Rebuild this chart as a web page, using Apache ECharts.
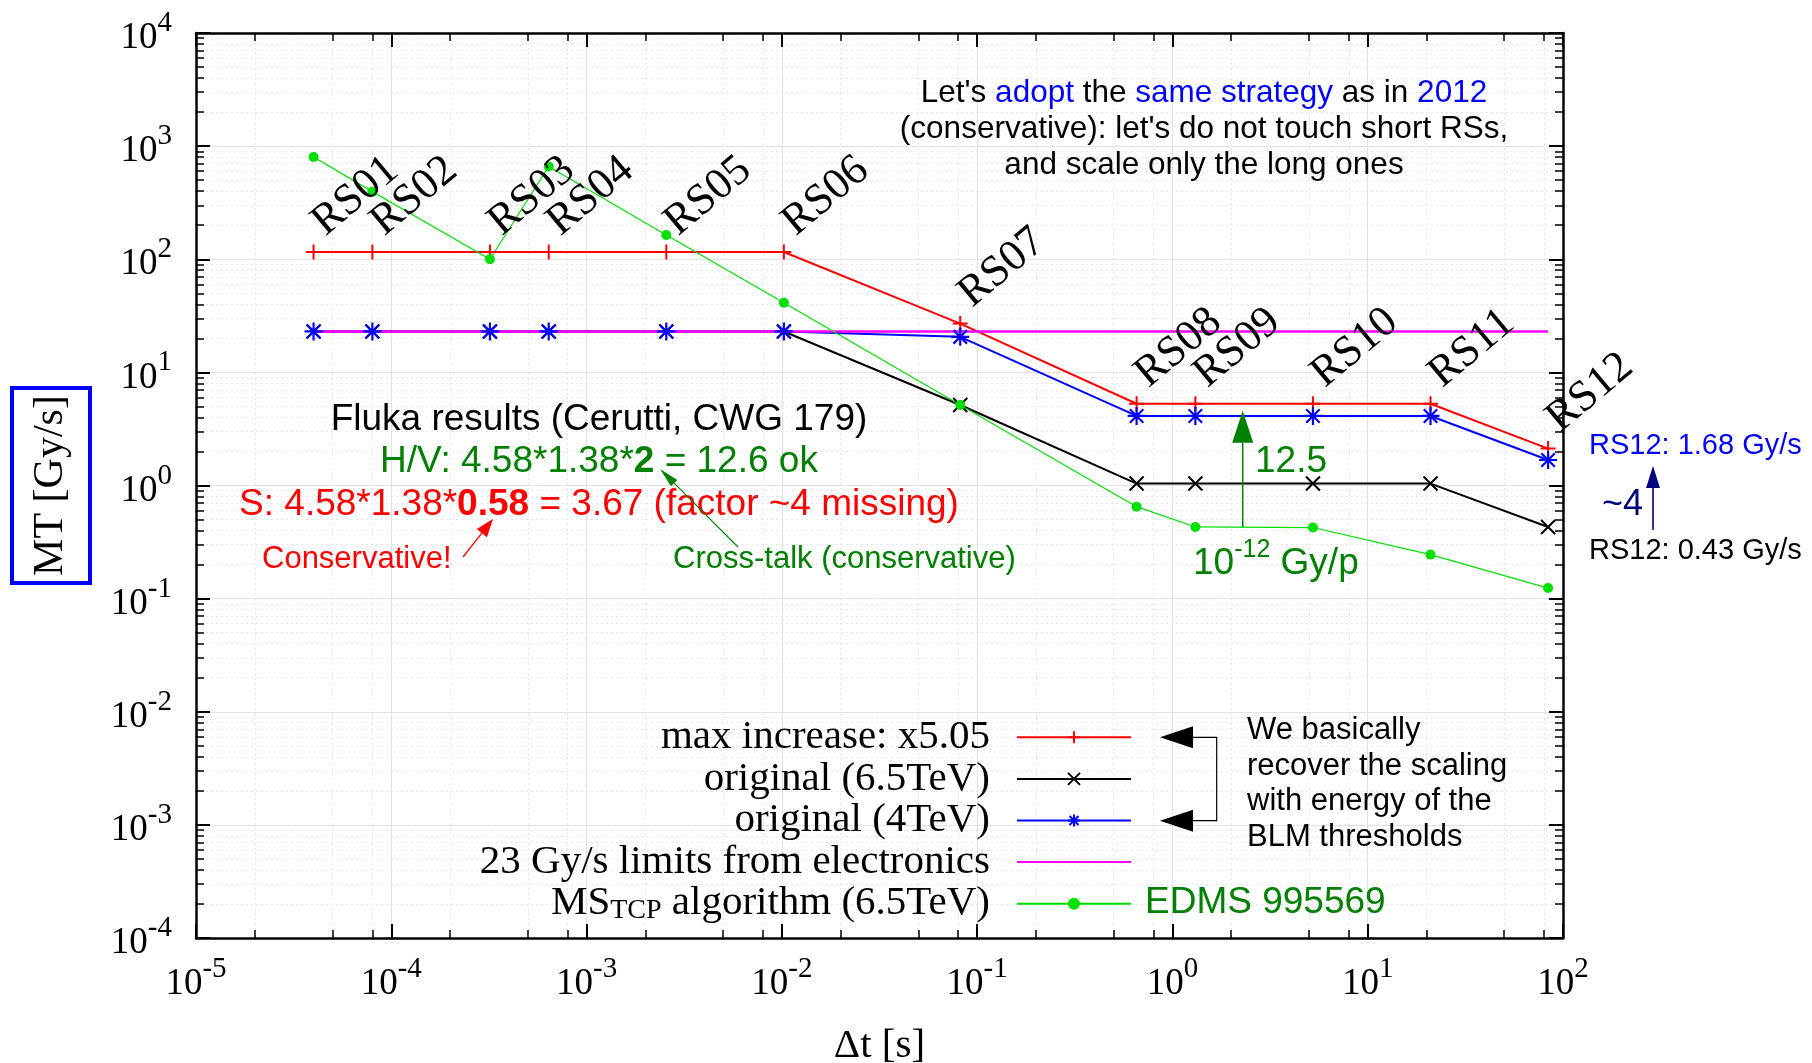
<!DOCTYPE html>
<html><head><meta charset="utf-8">
<script src="https://cdn.jsdelivr.net/npm/echarts@6/dist/echarts.min.js"></script>
<style>html,body{margin:0;padding:0;background:#fff}#c{width:1812px;height:1063px}</style>
</head><body><div id="c"></div>
<script>
// ---- data ----
const rsNames = ['RS01','RS02','RS03','RS04','RS05','RS06','RS07','RS08','RS09','RS10','RS11','RS12'];
const dtSeconds = [4e-5, 8e-5, 3.2e-4, 6.4e-4, 2.56e-3, 1.024e-2, 8.192e-2, 0.65536, 1.31072, 5.24288, 20.97152, 83.88608];
const maxIncrease = [116, 116, 116, 116, 116, 116, 27, 5.28, 5.28, 5.28, 5.28, 2.12];
const original65  = [23, 23, 23, 23, 23, 23, 5.15, 1.04, 1.04, 1.04, 1.04, 0.43];
const original4   = [23, 23, 23, 23, 23, 23, 20.6, 4.12, 4.12, 4.12, 4.12, 1.68];
const limit23     = [23, 23, 23, 23, 23, 23, 23, 23, 23, 23, 23, 23];
const msTcp       = [800, 396, 100, 660, 164, 41.3, 5.15, 0.65, 0.43, 0.425, 0.245, 0.124];
const seriesNames = ['max increase: x5.05', 'original (6.5TeV)', 'original (4TeV)', '23 Gy/s limits from electronics', 'MS_TCP algorithm (6.5TeV)'];
const xRange = [1e-5, 1e2];
const yRange = [1e-4, 1e4];
const xMinorMantissa = [2, 5, 8];
const yMinorMantissa = [2, 3, 4, 5, 6, 7, 8, 9];

// ---- helpers ----
const SERIF = "'Liberation Serif','Times New Roman',serif";
const SANS = "'Liberation Sans',Arial,sans-serif";
function minorTicks(range, mant) {
  const out = [];
  for (let e = Math.round(Math.log10(range[0])); e < Math.round(Math.log10(range[1])); e++) {
    mant.forEach(m => out.push(+(m * Math.pow(10, e)).toPrecision(6)));
  }
  return out;
}
const xMinor = minorTicks(xRange, xMinorMantissa);
const yMinor = minorTicks(yRange, yMinorMantissa);
const pairs = ys => dtSeconds.map((x, i) => [x, ys[i]]);
const expLabel = v => '{b|10}{s|' + Math.round(Math.log10(v)) + '}';

const plusPath = 'path://M0,-1L0,1M-1,0L1,0';
const crossPath = 'path://M-1,-1L1,1M-1,1L1,-1';
const starPath = 'path://M0,-1L0,1M-1,0L1,0M-0.75,-0.75L0.75,0.75M-0.75,0.75L0.75,-0.75';

function baseAxis(extra) {
  return Object.assign({
    type: 'log', logBase: 10, gridIndex: 0,
    axisLine: { show: false, onZero: false },
    axisLabel: { show: false },
    axisTick: { show: false },
    splitLine: { show: false },
    minorTick: { show: false }, minorSplitLine: { show: false },
    silent: true
  }, extra);
}
const axisLineStyle = { show: true, onZero: false, lineStyle: { color: '#000', width: 2.5 } };
const majorTick = { show: true, inside: true, length: 14, lineStyle: { color: '#000', width: 2 } };
const minorTickStyle = (vals) => ({ show: true, inside: true, length: 8, customValues: vals, lineStyle: { color: '#000', width: 1.5 } });
const richTick = {
  b: { fontFamily: SERIF, fontSize: 37, lineHeight: 48, verticalAlign: 'bottom', color: '#000' },
  s: { fontFamily: SERIF, fontSize: 29, lineHeight: 29, verticalAlign: 'top', color: '#000' }
};

// ---- graphic annotations ----
function txt(x, y, text, o) {
  return { type: 'text', x: x, y: y, silent: true, z: 50,
    style: Object.assign({ text: text, align: 'left', verticalAlign: 'middle', textAlign: 'left', textVerticalAlign: 'middle',
      fontFamily: SANS, fontSize: 31, fill: '#000' }, o) };
}
function arrow(x1, y1, x2, y2, color, lw, hl, hw) {
  const dx = x2 - x1, dy = y2 - y1, L = Math.hypot(dx, dy), ux = dx / L, uy = dy / L;
  const bx = x2 - ux * hl, by = y2 - uy * hl, px = -uy * hw / 2, py = ux * hw / 2;
  return [
    { type: 'line', silent: true, z: 50, shape: { x1: x1, y1: y1, x2: bx, y2: by }, style: { stroke: color, lineWidth: lw } },
    { type: 'polygon', silent: true, z: 50, shape: { points: [[x2, y2], [bx + px, by + py], [bx - px, by - py]] }, style: { fill: color } }
  ];
}

const graphics = [
  txt(1204, 129, "{k|Let's }{b|adopt}{k| the }{b|same strategy}{k| as in }{b|2012}\n{k|(conservative): let's do not touch short RSs,}\n{k|and scale only the long ones}", {
    align: 'center', textAlign: 'center',
    rich: { k: { fontFamily: SANS, fontSize: 31.5, lineHeight: 36, fill: '#000' }, b: { fontFamily: SANS, fontSize: 31.5, lineHeight: 36, fill: '#0000ff' } } }),
  txt(599, 462, "{k|Fluka results (Cerutti, CWG 179)}\n{g|H/V: 4.58*1.38*}{gb|2}{g| = 12.6 ok}\n{r|S: 4.58*1.38*}{rb|0.58}{r| = 3.67 (factor ~4 missing)}", {
    align: 'center', textAlign: 'center',
    rich: {
      k: { fontFamily: SANS, fontSize: 37, lineHeight: 42.5, fill: '#000' },
      g: { fontFamily: SANS, fontSize: 37, lineHeight: 42.5, fill: '#008000' },
      gb: { fontFamily: SANS, fontSize: 37, lineHeight: 42.5, fill: '#008000', fontWeight: 'bold' },
      r: { fontFamily: SANS, fontSize: 37, lineHeight: 42.5, fill: '#ff0000' },
      rb: { fontFamily: SANS, fontSize: 37, lineHeight: 42.5, fill: '#ff0000', fontWeight: 'bold' }
    } }),
  txt(262, 559, 'Conservative!', { fill: '#ff0000' }),
  txt(673, 559, 'Cross-talk (conservative)', { fill: '#008000' }),
  txt(1255, 462, '12.5', { fontSize: 37, fill: '#008000' }),
  txt(1193, 560, '{n|10}{s|-12}{n| Gy/p}', { fill: '#008000',
    rich: { n: { fontFamily: SANS, fontSize: 37, lineHeight: 44, verticalAlign: 'bottom', fill: '#008000' }, s: { fontFamily: SANS, fontSize: 25, lineHeight: 25, verticalAlign: 'top', fill: '#008000' } } }),
  txt(1589, 446, 'RS12: 1.68 Gy/s', { fontSize: 29, fill: '#0000ff' }),
  txt(1602, 505, '~4', { fontSize: 36, fill: '#000080' }),
  txt(1589, 551, 'RS12: 0.43 Gy/s', { fontSize: 29, fill: '#000' }),
  txt(1247, 784, 'We basically\nrecover the scaling\nwith energy of the\nBLM thresholds', { fontSize: 31, lineHeight: 35.5 }),
  txt(1145, 903, 'EDMS 995569', { fontSize: 37, fill: '#008000' }),
  { type: 'polyline', silent: true, z: 50, shape: { points: [[1192, 737.3], [1216.7, 737.3], [1216.7, 820.7], [1192, 820.7]] }, style: { stroke: '#000', lineWidth: 1.2, fill: null } },
  { type: 'polygon', silent: true, z: 50, shape: { points: [[1160, 737.3], [1193, 726.3], [1193, 748.3]] }, style: { fill: '#000' } },
  { type: 'polygon', silent: true, z: 50, shape: { points: [[1160, 820.7], [1193, 809.7], [1193, 831.7]] }, style: { fill: '#000' } }
].concat(
  arrow(463, 557, 493, 519, '#ff0000', 1.3, 18, 13),
  arrow(738, 547, 660, 469, '#008000', 1.1, 20, 9),
  arrow(1242.7, 527, 1242.7, 410.7, '#008000', 1.5, 32, 21),
  arrow(1653, 530, 1653, 466, '#000080', 1.6, 22, 14)
);

// ---- chart ----
const chart = echarts.init(document.getElementById('c'), null, { renderer: 'canvas' });
chart.setOption({
  backgroundColor: '#fff',
  animation: false,
  grid: { left: 196, top: 33, width: 1367, height: 905, outerBoundsMode: 'none', containLabel: false },
  xAxis: [
    baseAxis({ min: xRange[0], max: xRange[1], splitNumber: 7, position: 'bottom',
      axisLine: axisLineStyle, axisTick: majorTick,
      axisLabel: { show: true, margin: 17, formatter: expLabel, rich: richTick },
      splitLine: { show: true, lineStyle: { color: '#e2e2e2', width: 1 } },
      name: 'Δt [s]', nameLocation: 'middle', nameGap: 88,
      nameTextStyle: { fontFamily: SERIF, fontSize: 41, color: '#000' } }),
    baseAxis({ min: xRange[0], max: xRange[1], splitNumber: 7, position: 'bottom',
      axisTick: minorTickStyle(xMinor),
      splitLine: { show: true, lineStyle: { color: '#e6e6e6', width: 1, type: [2, 3] } } }),
    baseAxis({ min: xRange[0], max: xRange[1], splitNumber: 7, position: 'top', axisLine: axisLineStyle, axisTick: majorTick }),
    baseAxis({ min: xRange[0], max: xRange[1], splitNumber: 7, position: 'top', axisTick: minorTickStyle(xMinor) })
  ],
  yAxis: [
    baseAxis({ min: yRange[0], max: yRange[1], splitNumber: 8, position: 'left',
      axisLine: axisLineStyle, axisTick: majorTick,
      axisLabel: { show: true, margin: 24, formatter: expLabel, rich: richTick },
      splitLine: { show: true, lineStyle: { color: '#e2e2e2', width: 1 } },
      name: 'MT [Gy/s]', nameLocation: 'middle', nameGap: 106, nameRotate: 90,
      nameTextStyle: { fontFamily: SERIF, fontSize: 42, color: '#000', borderColor: '#0000ff', borderWidth: 4, padding: [18, 7, 18, 7] } }),
    baseAxis({ min: yRange[0], max: yRange[1], splitNumber: 8, position: 'left',
      axisTick: minorTickStyle(yMinor),
      splitLine: { show: true, lineStyle: { color: '#e6e6e6', width: 1, type: [2, 3] } } }),
    baseAxis({ min: yRange[0], max: yRange[1], splitNumber: 8, position: 'right', axisLine: axisLineStyle, axisTick: majorTick }),
    baseAxis({ min: yRange[0], max: yRange[1], splitNumber: 8, position: 'right', axisTick: minorTickStyle(yMinor) })
  ],
  legend: {
    orient: 'vertical', right: 680, top: 716.5, padding: 0, itemGap: 0,
    itemWidth: 114, itemHeight: 15, align: 'right', selectedMode: false,
    data: seriesNames.map(n => n === seriesNames[3] ? { name: n, itemStyle: { opacity: 0 } } : n),
    formatter: n => n === 'MS_TCP algorithm (6.5TeV)' ? '{a|MS}{sub|TCP}{a| algorithm (6.5TeV)}' : n,
    textStyle: { fontFamily: SERIF, fontSize: 41, lineHeight: 41.6, color: '#000', padding: [0, 22, 0, 0],
      rich: { a: { fontFamily: SERIF, fontSize: 41, lineHeight: 41.6, color: '#000' },
              sub: { fontFamily: SERIF, fontSize: 28, lineHeight: 10, verticalAlign: 'bottom', color: '#000' } } }
  },
  series: [
    { name: seriesNames[0], type: 'line', data: pairs(maxIncrease), silent: true,
      symbol: plusPath, symbolSize: 15, lineStyle: { color: '#ff0000', width: 2 },
      itemStyle: { color: '#ff0000', borderColor: '#ff0000', borderWidth: 2 },
      label: { show: true, position: 'top', distance: 8, rotate: 40, align: 'left', verticalAlign: 'bottom', offset: [8.4, 18.8],
        formatter: p => rsNames[p.dataIndex], fontFamily: SERIF, fontSize: 44, color: '#000' },
      emphasis: { disabled: true } },
    { name: seriesNames[1], type: 'line', data: pairs(original65), silent: true,
      symbol: crossPath, symbolSize: 14, lineStyle: { color: '#000', width: 2 },
      itemStyle: { color: '#000', borderColor: '#000', borderWidth: 2 }, emphasis: { disabled: true } },
    { name: seriesNames[2], type: 'line', data: pairs(original4), silent: true,
      symbol: starPath, symbolSize: 18, lineStyle: { color: '#0000ff', width: 2 },
      itemStyle: { color: '#0000ff', borderColor: '#0000ff', borderWidth: 2.2 }, emphasis: { disabled: true } },
    { name: seriesNames[3], type: 'line', data: pairs(limit23), silent: true,
      symbol: 'none', lineStyle: { color: '#ff00ff', width: 2.5 },
      itemStyle: { color: '#ff00ff' }, emphasis: { disabled: true } },
    { name: seriesNames[4], type: 'line', data: pairs(msTcp), silent: true,
      symbol: 'circle', symbolSize: 10, lineStyle: { color: '#00e000', width: 1.2 },
      itemStyle: { color: '#00e000' }, emphasis: { disabled: true } }
  ],
  graphic: graphics
});
</script>
</body></html>
